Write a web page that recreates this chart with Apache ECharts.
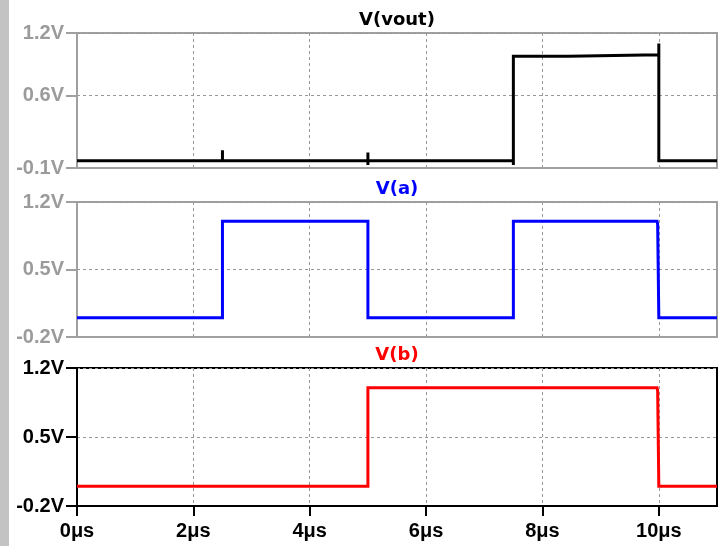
<!DOCTYPE html>
<html>
<head>
<meta charset="utf-8">
<script src="https://cdn.jsdelivr.net/npm/echarts@6/dist/echarts.min.js"></script>
<style>
  html, body { margin: 0; padding: 0; background: #fff; }
  #chart { width: 723px; height: 546px; }
</style>
</head>
<body>
<div id="chart"></div>
<script>
// Transient simulation traces (time in µs, voltage in V)
const voutT = [0, 2.5, 2.5, 2.5, 5, 5, 5, 5, 7.5, 7.5, 7.5, 8.45, 8.45, 10, 10, 10, 11];
const voutV = [-0.03, -0.03, 0.07, -0.03, -0.03, 0.05, -0.07, -0.03, -0.03, -0.07, 0.975, 0.975, 0.99, 0.99, 1.10, -0.03, -0.03];

const aT = [0, 2.5, 2.5, 5, 5, 7.5, 7.5, 9.97, 9.98, 10, 11];
const aV = [0, 0, 1, 1, 0, 0, 1, 1, 0.97, 0, 0];

const bT = [0, 5, 5, 9.97, 9.98, 10, 11];
const bV = [0, 0, 1, 1, 0.97, 0, 0];

// Pane ranges and tick labels
const timeTicks = [0, 2, 4, 6, 8, 10];
const voutTicks = [-0.1, 0.6, 1.2];
const aTicks = [-0.2, 0.5, 1.2];
const bTicks = [-0.2, 0.5, 1.2];
const paneTitles = ['V(vout)', 'V(a)', 'V(b)'];
const paneColors = ['#000000', '#0000ff', '#ff0000'];

const toPairs = (t, v) => t.map((x, i) => [x, v[i]]);

const gray = '#a0a0a0';
const labelFont = { fontFamily: 'Liberation Sans', fontWeight: 'bold', fontSize: 20 };

const panes = [
  { top: 33, height: 135, ticks: voutTicks, frame: gray, label: '#9b9b9b', data: toPairs(voutT, voutV) },
  { top: 202, height: 135, ticks: aTicks, frame: gray, label: '#9b9b9b', data: toPairs(aT, aV) },
  { top: 368, height: 138, ticks: bTicks, frame: '#000000', label: '#000000', data: toPairs(bT, bV) }
];

const chart = echarts.init(document.getElementById('chart'), null, { renderer: 'canvas' });

const option = {
  animation: false,
  backgroundColor: '#ffffff',
  graphic: [{
    type: 'rect', left: 0, top: 0, z: 10,
    shape: { width: 9, height: 546 },
    style: { fill: '#c3c3c3' }
  }],
  title: panes.map((p, i) => ({
    text: paneTitles[i],
    left: 392, top: p.top - 27,
    textAlign: 'center',
    textStyle: { fontFamily: 'DejaVu Sans', fontWeight: 'bold', fontSize: 18, color: paneColors[i] }
  })),
  grid: panes.map(p => ({
    left: 77, width: 640, top: p.top, height: p.height,
    show: true, borderColor: p.frame, borderWidth: 2, backgroundColor: 'transparent'
  })),
  xAxis: panes.map((p, i) => ({
    type: 'value', gridIndex: i, min: 0, max: 11, interval: 2,
    axisLine: { show: true, onZero: false, lineStyle: { color: p.frame, width: 2 } },
    axisTick: { show: i === 2, length: 10, customValues: timeTicks, lineStyle: { color: '#000', width: 2 } },
    axisLabel: {
      show: i === 2, margin: 15, customValues: timeTicks,
      formatter: v => v + 'μs', color: '#000', ...labelFont
    },
    splitLine: { show: true, lineStyle: { color: '#999', type: [3, 3], width: 1 } }
  })),
  yAxis: panes.map((p, i) => ({
    type: 'value', gridIndex: i, min: p.ticks[0], max: p.ticks[2],
    axisLine: { show: true, onZero: false, lineStyle: { color: p.frame, width: 2 } },
    axisTick: { show: true, length: 11, customValues: p.ticks, lineStyle: { color: p.frame, width: 2 } },
    axisLabel: {
      show: true, margin: 13, customValues: p.ticks,
      formatter: v => v + 'V', color: p.label, ...labelFont
    },
    splitLine: { show: true, lineStyle: { color: '#999', type: [3, 3], width: 1 } }
  })),
  series: panes.map((p, i) => ({
    type: 'line', xAxisIndex: i, yAxisIndex: i,
    data: p.data, showSymbol: false, symbol: 'none',
    lineStyle: { color: paneColors[i], width: 3, join: 'miter', cap: 'butt' },
    clip: true, z: 3
  }))
};

chart.setOption(option);
</script>
</body>
</html>
